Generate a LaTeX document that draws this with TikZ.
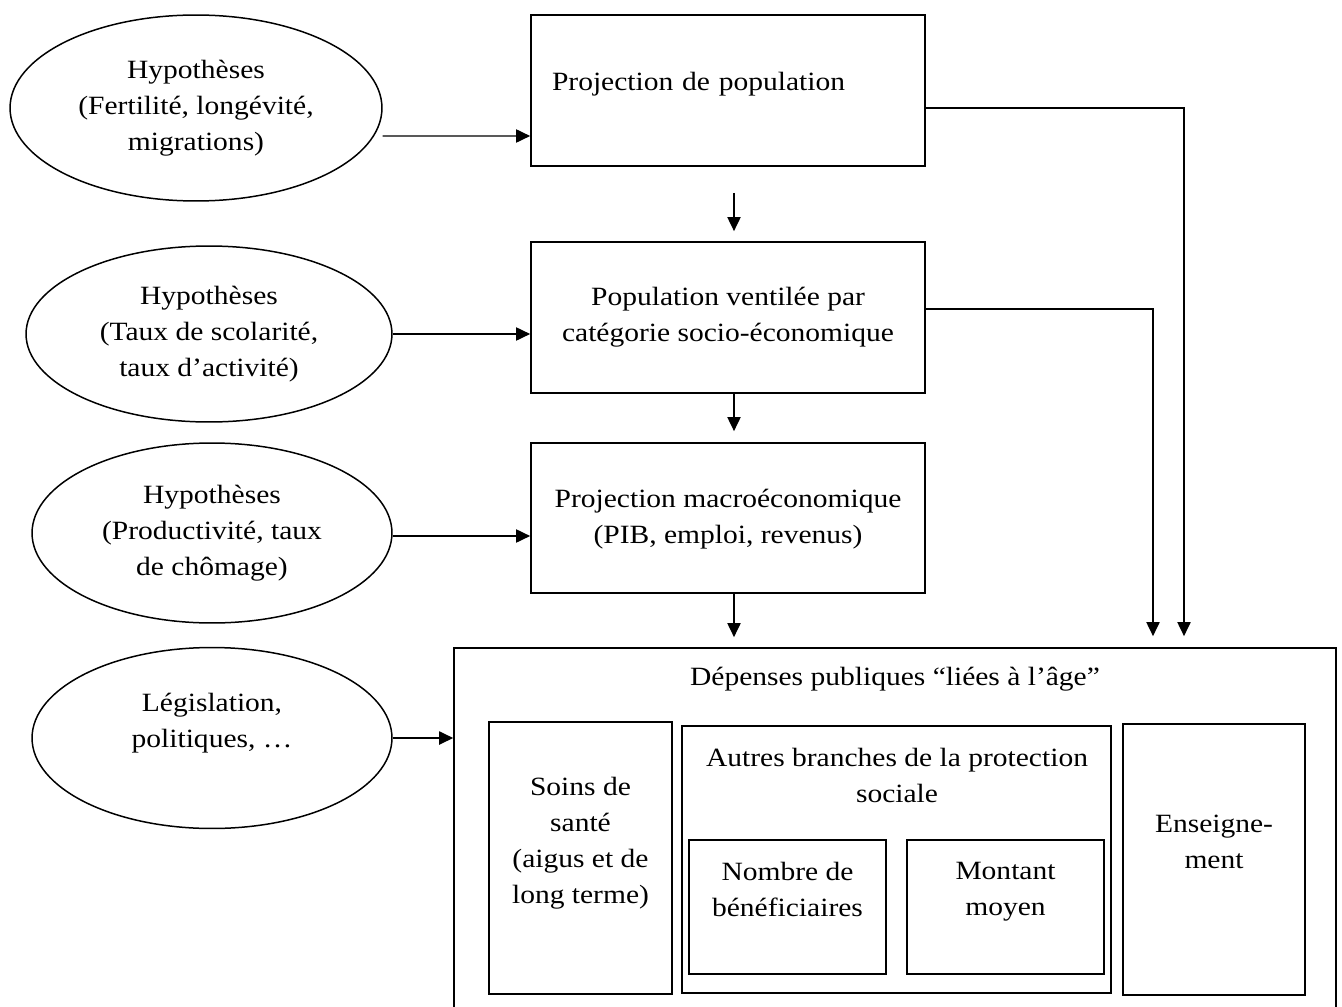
\documentclass[tikz,border=0pt]{standalone}
\usepackage{fontspec}
\setmainfont{Liberation Serif}[FakeStretch=1.12]
\usetikzlibrary{shapes.geometric,arrows.meta,calc}
\begin{document}
\begin{tikzpicture}[x=0.02cm,y=-0.02cm,
  txt/.style={font=\fontsize{15}{20.5}\selectfont, align=center},
  oval/.style={ellipse, draw, line width=0.85pt, inner sep=0pt, txt},
  box/.style={rectangle, draw, line width=1pt, inner sep=0pt, txt},
  arr/.style={line width=0.85pt, -{Triangle[length=8pt,width=7.5pt]}},
  ln/.style={line width=0.85pt}]
\useasboundingbox (0,0) rectangle (1342,1007);
\clip (0,0) rectangle (1342,1007);

% ellipses
\node[oval, minimum width=7.44cm, minimum height=3.72cm] (e1) at (196,108) {Hypothèses\\(Fertilité, longévité,\\migrations)};
\node[oval, minimum width=7.32cm, minimum height=3.52cm] (e2) at (209,334) {Hypothèses\\(Taux de scolarité,\\taux d’activité)};
\node[oval, minimum width=7.2cm, minimum height=3.6cm] (e3) at (212,533) {Hypothèses\\(Productivité, taux\\de chômage)};
\node[oval, minimum width=7.2cm, minimum height=3.62cm] (e4) at (212,738) {Législation,\\politiques, …\\ \mbox{}};

% main boxes
\node[box, minimum width=7.88cm, minimum height=3.02cm, text width=7.04cm, align=left, text depth=10pt] (box1) at (728,90.5) {Projection de population};
\node[box, minimum width=7.88cm, minimum height=3.02cm] (box2) at (728,317.5) {Population ventilée par\\catégorie socio-économique};
\node[box, minimum width=7.88cm, minimum height=3.0cm] (box3) at (728,518) {\mbox{}\\[-9pt]Projection macroéconomique\\(PIB, emploi, revenus)};

% big box
\node[box, minimum width=17.64cm, minimum height=7.64cm] (big) at (895,839) {};
\node[txt] (title) at (895,679) {Dépenses publiques “liées à l’âge”};
\node[box, minimum width=3.66cm, minimum height=5.44cm] (soins) at (580.5,858) {Soins de\\santé\\(aigus et de\\long terme)\\ \mbox{}};
\node[box, minimum width=8.58cm, minimum height=5.34cm] (autres) at (896.5,859.5) {};
\node[txt] (autrestxt) at (897,775) {Autres branches de la protection\\sociale};
\node[box, minimum width=3.64cm, minimum height=5.42cm] (ens) at (1214,859.5) {Enseigne-\\ment\\ \mbox{}};
\node[box, minimum width=3.94cm, minimum height=2.68cm] (nombre) at (787.5,907) {Nombre de\\bénéficiaires\\ \mbox{}};
\node[box, minimum width=3.94cm, minimum height=2.68cm] (montant) at (1005.5,907) {Montant\\moyen\\ \mbox{}};

% connectors
\draw[arr] ($(e1.east)+(0,28)$) -- ($(box1.west)+(0,45.5)$);
\draw[arr] (e2.east) -- (e2.east -| box2.west);
\draw[arr] ($(e3.east)+(0,3)$) -- ($(e3.east -| box3.west)+(0,3)$);
\draw[arr] (e4.east) -- (e4.east -| big.west);

\draw[arr] ($(box1.south)+(6,26)$) -- ($(box2.north)+(6,-10)$);
\draw[arr] ($(box2.south)+(6,0)$) -- ($(box3.north)+(6,-11)$);
\coordinate (a3) at ($(box3.south)+(6,0)$);
\draw[arr] (a3) -- ($(a3 |- big.north)+(0,-10)$);

\draw[arr] ($(box1.east)+(0,17.5)$) -| ($(big.north)+(289,-11)$);
\draw[arr] ($(box2.east)+(0,-8.5)$) -| ($(big.north)+(258,-11)$);
\end{tikzpicture}
\end{document}
